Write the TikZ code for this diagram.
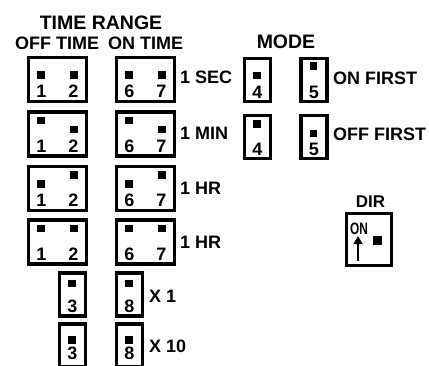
\documentclass[tikz,border=0pt]{standalone}
\usepackage{fontspec}
\setmainfont{Liberation Sans}
\usetikzlibrary{arrows.meta}
\newcommand\jtwo[7]{%
  \node[bigbox] (#1) at (#2,#3) {};
  \node[pin] (#1pa) at ([shift={(-16.5,#4)}]#1.center) {};
  \node[pin] (#1pb) at ([shift={(16.5,#5)}]#1.center) {};
  \node[num] (#1na) at ([shift={(-16,12)}]#1.center) {#6};
  \node[num] (#1nb) at ([shift={(16,12)}]#1.center) {#7};}
\newcommand\jone[6]{%
  \node[smallbox] (#1) at (#2,#3) {};
  \node[pin] (#1p) at ([shift={(-0.5,#4)}]#1.center) {};
  \node[num] (#1n) at ([shift={(0,#6)}]#1.center) {#5};}
\begin{document}
\begin{tikzpicture}[x=1pt,y=-1pt,
  bigbox/.style={draw,line width=3.4pt,minimum width=58pt,minimum height=44pt,inner sep=0pt,outer sep=0pt},
  smallbox/.style={draw,line width=3.4pt,minimum width=26pt,minimum height=43pt,inner sep=0pt,outer sep=0pt},
  pin/.style={fill=black,minimum size=7.5pt,inner sep=0pt},
  num/.style={font=\fontsize{18}{18}\selectfont\bfseries,inner sep=0pt},
  lbl/.style={font=\fontsize{18}{18}\selectfont\bfseries,inner sep=0pt,anchor=west},
  ttl/.style={font=\fontsize{19.5}{19.5}\selectfont\bfseries,inner sep=0pt}]
\clip (0,0) rectangle (429,365);
\useasboundingbox (0,0) rectangle (429,365);
% titles
\node[ttl] (trange) at (101,22.5) {TIME RANGE};
\node[lbl] (offtime) at (15,43) {OFF TIME};
\node[lbl] (ontime) at (108,43) {ON TIME};
\node[ttl] (mode) at (286,41.5) {MODE};
\node[lbl,anchor=center,font=\fontsize{17}{17}\selectfont\bfseries] (dirt) at (370.5,202) {DIR};
% time range jumpers
\jtwo{offA}{57.5}{79.5}{-4.5}{-4.5}{1}{2}
\jtwo{onA}{145.5}{79.5}{-4.5}{-4.5}{6}{7}
\jtwo{offB}{57.5}{134}{-13.5}{-4.5}{1}{2}
\jtwo{onB}{145.5}{134}{-13.5}{-4.5}{6}{7}
\jtwo{offC}{57.5}{188.5}{-4.5}{-13.5}{1}{2}
\jtwo{onC}{145.5}{188.5}{-4.5}{-13.5}{6}{7}
\jtwo{offD}{57.5}{242}{-13.5}{-13.5}{1}{2}
\jtwo{onD}{145.5}{242}{-13.5}{-13.5}{6}{7}
\jone{sA}{72.5}{294.5}{-11}{3}{12}
\jone{sB}{129.5}{294.5}{-11}{8}{12}
\jone{sC}{72.5}{345.5}{-5.5}{3}{8}
\jone{sD}{129.5}{345.5}{-5.5}{8}{8}
% mode jumpers
\jone{mA}{257.5}{80}{-4.5}{4}{12}
\jone{mB}{314}{80}{-14}{5}{12}
\jone{mC}{257.5}{137}{-13}{4}{12}
\jone{mD}{314}{137}{-3.5}{5}{12}
% labels
\node[lbl] (l1) at (180,77) {1 SEC};
\node[lbl] (l2) at (180,133) {1 MIN};
\node[lbl] (l3) at (180,188) {1 HR};
\node[lbl] (l4) at (180,242) {1 HR};
\node[lbl] (l5) at (149,296) {X 1};
\node[lbl] (l6) at (149,346) {X 10};
\node[lbl] (l7) at (333,78.5) {ON FIRST};
\node[lbl] (l8) at (333,134.5) {OFF FIRST};
% DIR switch
\node[draw,line width=3.4pt,minimum width=45pt,minimum height=52pt,inner sep=0pt] (dir) at (369,239.5) {};
\node[inner sep=0pt,font=\fontsize{16.5}{16.5}\selectfont\bfseries] (on) at (359,229) {\scalebox{0.72}[1]{ON}};
\node[pin,minimum size=8.5pt] (dirpin) at (377.5,240.5) {};
\coordinate (arS) at (358,261);
\coordinate (arE) at (358,236);
\draw[line width=2.8pt,-{Triangle[length=8pt,width=9pt]}] (arS) -- (arE);
\end{tikzpicture}
\end{document}
